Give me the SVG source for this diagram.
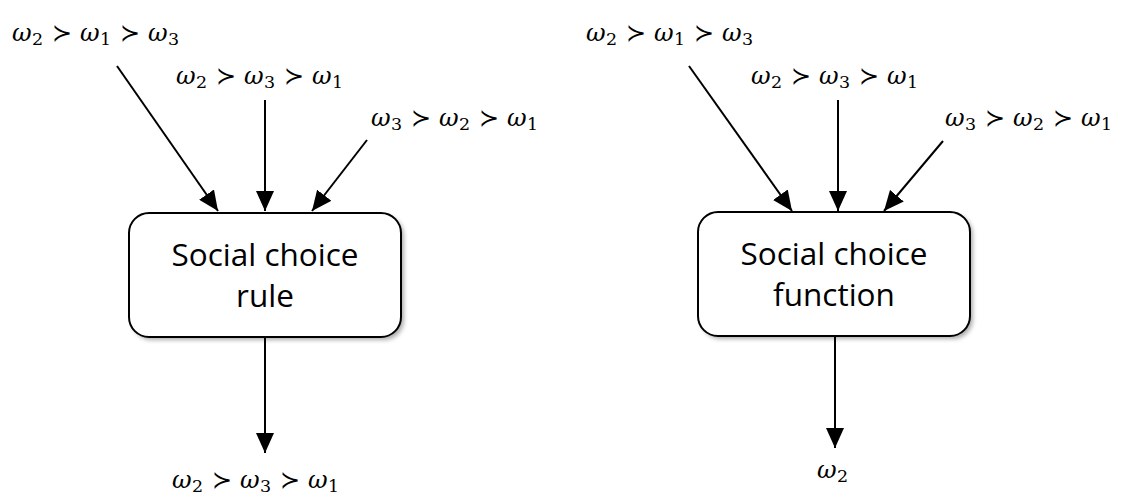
<svg xmlns="http://www.w3.org/2000/svg" width="1131" height="504" viewBox="0 0 1131 504">
<style>
.box{fill:#fff;stroke:#000;stroke-width:2}
.shadow{fill:#777;opacity:0.6}
.lbl{font-family:"Open Sans","Liberation Sans",sans-serif;font-size:31.5px;fill:#000;text-anchor:middle}
.m{font-family:"DejaVu Serif","Liberation Serif",serif;font-size:24px;fill:#000;letter-spacing:0.4px}
.m .w{font-style:italic}
.m .s{font-size:17.5px}
.c line{stroke:#000;stroke-width:2}
</style>
<defs>
<marker id="a" viewBox="0 0 20 18" refX="20" refY="9" markerWidth="20" markerHeight="18" markerUnits="userSpaceOnUse" orient="auto">
<path d="M0,0 L20,9 L0,18 z" fill="#000"/>
</marker>
<filter id="sh" x="-10%" y="-10%" width="130%" height="130%">
<feGaussianBlur stdDeviation="2"/>
</filter>
</defs>
<g id="node-rule">
<rect class="shadow" x="132" y="216" width="272" height="124" rx="20" filter="url(#sh)"/>
<rect class="box" x="129" y="213" width="272" height="124" rx="20"/>
<text class="lbl" x="265" y="266">Social choice</text>
<text class="lbl" x="265" y="307">rule</text>
</g>
<g id="node-function">
<rect class="shadow" x="701" y="215" width="272" height="124" rx="20" filter="url(#sh)"/>
<rect class="box" x="698" y="212" width="272" height="124" rx="20"/>
<text class="lbl" x="834" y="265">Social choice</text>
<text class="lbl" x="834" y="306">function</text>
</g>
<g id="labels-left">
<text class="m" x="12" y="41"><tspan class="w">ω</tspan><tspan class="s" dy="4">2</tspan><tspan dy="-4"> ≻ </tspan><tspan class="w">ω</tspan><tspan class="s" dy="4">1</tspan><tspan dy="-4"> ≻ </tspan><tspan class="w">ω</tspan><tspan class="s" dy="4">3</tspan></text>
<text class="m" x="176" y="84"><tspan class="w">ω</tspan><tspan class="s" dy="4">2</tspan><tspan dy="-4"> ≻ </tspan><tspan class="w">ω</tspan><tspan class="s" dy="4">3</tspan><tspan dy="-4"> ≻ </tspan><tspan class="w">ω</tspan><tspan class="s" dy="4">1</tspan></text>
<text class="m" x="371" y="126"><tspan class="w">ω</tspan><tspan class="s" dy="4">3</tspan><tspan dy="-4"> ≻ </tspan><tspan class="w">ω</tspan><tspan class="s" dy="4">2</tspan><tspan dy="-4"> ≻ </tspan><tspan class="w">ω</tspan><tspan class="s" dy="4">1</tspan></text>
<text class="m" x="172" y="488"><tspan class="w">ω</tspan><tspan class="s" dy="4">2</tspan><tspan dy="-4"> ≻ </tspan><tspan class="w">ω</tspan><tspan class="s" dy="4">3</tspan><tspan dy="-4"> ≻ </tspan><tspan class="w">ω</tspan><tspan class="s" dy="4">1</tspan></text>
</g>
<g id="labels-right">
<text class="m" x="586" y="41"><tspan class="w">ω</tspan><tspan class="s" dy="4">2</tspan><tspan dy="-4"> ≻ </tspan><tspan class="w">ω</tspan><tspan class="s" dy="4">1</tspan><tspan dy="-4"> ≻ </tspan><tspan class="w">ω</tspan><tspan class="s" dy="4">3</tspan></text>
<text class="m" x="751" y="84"><tspan class="w">ω</tspan><tspan class="s" dy="4">2</tspan><tspan dy="-4"> ≻ </tspan><tspan class="w">ω</tspan><tspan class="s" dy="4">3</tspan><tspan dy="-4"> ≻ </tspan><tspan class="w">ω</tspan><tspan class="s" dy="4">1</tspan></text>
<text class="m" x="945" y="126"><tspan class="w">ω</tspan><tspan class="s" dy="4">3</tspan><tspan dy="-4"> ≻ </tspan><tspan class="w">ω</tspan><tspan class="s" dy="4">2</tspan><tspan dy="-4"> ≻ </tspan><tspan class="w">ω</tspan><tspan class="s" dy="4">1</tspan></text>
<text class="m" x="817" y="478"><tspan class="w">ω</tspan><tspan class="s" dy="4">2</tspan></text>
</g>
<g id="connectors" class="c">
<line x1="117" y1="66" x2="218" y2="211" marker-end="url(#a)"/>
<line x1="265" y1="100" x2="265" y2="211" marker-end="url(#a)"/>
<line x1="367" y1="140" x2="312" y2="211" marker-end="url(#a)"/>
<line x1="265" y1="338" x2="265" y2="453" marker-end="url(#a)"/>
<line x1="689" y1="66" x2="792" y2="211" marker-end="url(#a)"/>
<line x1="838" y1="100" x2="838" y2="211" marker-end="url(#a)"/>
<line x1="943" y1="141" x2="884" y2="211" marker-end="url(#a)"/>
<line x1="835" y1="336" x2="835" y2="448" marker-end="url(#a)"/>
</g>
</svg>
